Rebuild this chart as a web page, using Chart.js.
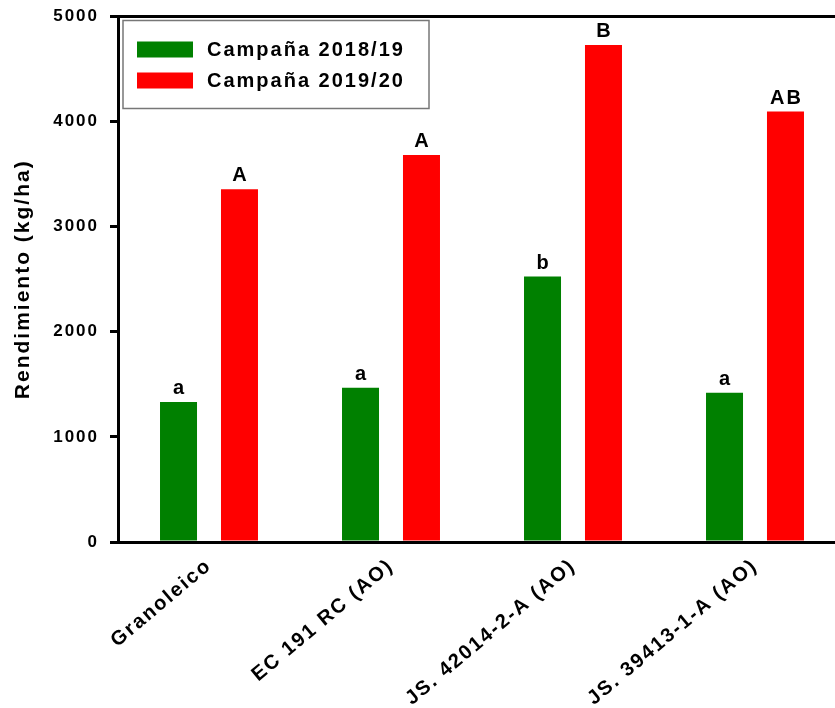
<!DOCTYPE html>
<html>
<head>
<meta charset="utf-8">
<script src="https://cdn.jsdelivr.net/npm/chart.js@4.4.0/dist/chart.umd.min.js"></script>
<style>
  html, body { margin: 0; padding: 0; overflow: hidden; background: #fff; }
  #wrap { width: 835px; height: 708px; overflow: hidden; }
</style>
</head>
<body>
<div id="wrap"><canvas id="myChart" width="846" height="708"></canvas></div>
<script>
// chart data
const categories = ['Granoleico', 'EC 191 RC (AO)', 'JS. 42014-2-A (AO)', 'JS. 39413-1-A (AO)'];
const seriesNames = ['Campaña 2018/19', 'Campaña 2019/20'];
const yield2018 = [1331, 1467, 2526, 1420];
const yield2019 = [3357, 3683, 4729, 4095];
const letters2018 = ['a', 'a', 'b', 'a'];
const letters2019 = ['A', 'A', 'B', 'AB'];
const yTicks = [0, 1000, 2000, 3000, 4000, 5000];

const FONT = '"Liberation Sans", Arial, sans-serif';
const SPACING = '2px';

// canvas letter spacing gets reset whenever the canvas is resized, so set it again
const spacingPlugin = {
    id: 'spacing',
    beforeUpdate(chart) { chart.ctx.letterSpacing = SPACING; },
    beforeDraw(chart) { chart.ctx.letterSpacing = SPACING; }
};

const extrasPlugin = {
    id: 'extras',
    afterDatasetsDraw(chart) {
        const ctx = chart.ctx;
        const letters = [letters2018, letters2019];
        ctx.save();
        ctx.letterSpacing = SPACING;
        ctx.font = 'bold 20px ' + FONT;
        ctx.fillStyle = '#000';
        ctx.textAlign = 'center';
        ctx.textBaseline = 'alphabetic';
        chart.data.datasets.forEach((ds, i) => {
            chart.getDatasetMeta(i).data.forEach((bar, j) => {
                ctx.fillText(letters[i][j], bar.x + 1, bar.y - 8);
            });
        });
        ctx.restore();
    },
    afterDraw(chart) {
        const ctx = chart.ctx;
        const area = chart.chartArea;
        ctx.save();

        // top frame line
        ctx.strokeStyle = '#000';
        ctx.lineWidth = 3;
        ctx.beginPath();
        ctx.moveTo(area.left - 1.5, area.top);
        ctx.lineTo(area.right, area.top);
        ctx.stroke();

        // legend box
        const bx = area.left + 5, by = area.top + 4;
        ctx.strokeStyle = '#777';
        ctx.lineWidth = 1.5;
        ctx.strokeRect(bx, by, 306, 88);
        ctx.font = 'bold 20px ' + FONT;
        ctx.letterSpacing = SPACING;
        ctx.textAlign = 'left';
        ctx.textBaseline = 'middle';
        chart.data.datasets.forEach((ds, i) => {
            const cy = by + 29 + i * 31;
            ctx.fillStyle = ds.backgroundColor;
            ctx.fillRect(bx + 14, cy - 8, 56, 16);
            ctx.fillStyle = '#000';
            ctx.fillText(ds.label, bx + 84, cy + 1);
        });

        // y axis title
        ctx.font = 'bold 21px ' + FONT;
        ctx.translate(23, (area.top + area.bottom) / 2);
        ctx.rotate(-Math.PI / 2);
        ctx.textAlign = 'center';
        ctx.fillText('Rendimiento (kg/ha)', 0, 0);
        ctx.restore();
    }
};

const ctx = document.getElementById('myChart').getContext('2d');
new Chart(ctx, {
    type: 'bar',
    data: {
        labels: categories,
        datasets: [
            { label: seriesNames[0], data: yield2018, backgroundColor: '#008000' },
            { label: seriesNames[1], data: yield2019, backgroundColor: '#ff0000' }
        ]
    },
    options: {
        responsive: false,
        animation: false,
        devicePixelRatio: 1,
        categoryPercentage: 0.67,
        barPercentage: 0.607,
        layout: { padding: { top: 16.5, left: 0, right: 0, bottom: 0 } },
        plugins: {
            legend: { display: false },
            tooltip: { enabled: false }
        },
        scales: {
            x: {
                grid: { display: true, drawOnChartArea: false, drawTicks: false },
                border: { display: true, color: '#000', width: 3 },
                ticks: {
                    color: '#000',
                    font: { family: FONT, size: 20, weight: 'bold' },
                    minRotation: 40,
                    maxRotation: 40,
                    padding: 12
                },
                afterFit(scale) {
                    scale.height = 708 - 542;
                    scale.paddingLeft = 0;
                    scale.paddingRight = 0;
                }
            },
            y: {
                min: 0,
                max: 5000,
                afterBuildTicks(scale) { scale.ticks = yTicks.map(v => ({ value: v })); },
                grid: { drawOnChartArea: false, drawTicks: true, tickLength: 8, lineWidth: 3, color: '#000' },
                border: { display: true, color: '#000', width: 3 },
                ticks: {
                    color: '#000',
                    font: { family: FONT, size: 17, weight: 'bold' },
                    padding: 11,
                    callback: v => String(v)
                },
                afterFit(scale) {
                    scale.width = 118;
                    scale.paddingTop = 0;
                    scale.paddingBottom = 0;
                }
            }
        }
    },
    plugins: [spacingPlugin, extrasPlugin]
});
</script>
</body>
</html>
